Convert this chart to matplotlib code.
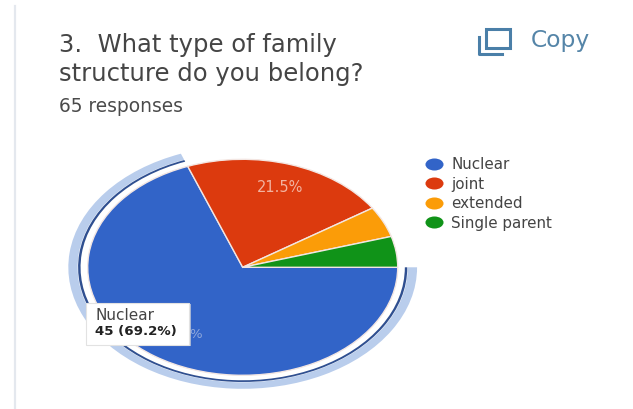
import numpy as np
import matplotlib
matplotlib.use("Agg")
import matplotlib.pyplot as plt
from matplotlib.patches import Wedge, Rectangle
from matplotlib.lines import Line2D
from matplotlib.path import Path
from matplotlib.transforms import Affine2D

categories = ["Nuclear", "joint", "extended", "Single parent"]
values = [45, 14, 3, 3]
colors = ["#3264c8", "#dc3a0e", "#fb9c08", "#109318"]
title_lines = ["3.  What type of family", "structure do you belong?"]
subtitle = "65 responses"
joint_label = "21.5%"
tip_title = "Nuclear"
tip_value = "45 (69.2%)"

W, H = 633, 409
CX, CY, RX, RY = 242.7, 267.3, 155, 108
plt.rcParams["font.family"] = ["DejaVu Sans"]

fig = plt.figure(figsize=(W / 100, H / 100), dpi=100, facecolor="white")
ax = fig.add_axes([0, 0, 1, 1])
ax.pie(values, colors=colors, startangle=0, counterclock=False, radius=1,
       center=(0, 0), wedgeprops=dict(edgecolor="#f3e6e2", linewidth=1.0))
ax.set_aspect("auto")
ax.set_xlim(-CX / RX, (W - CX) / RX)
ax.set_ylim((CY - H) / RY, CY / RY)
ax.axis("off")

span = values[0] / sum(values) * 360
ax.add_patch(Wedge((0, 0), 1.125, -span, 0, width=0.06, fc="#b9cdec", ec="none"))
ax.add_patch(Wedge((0, 0), 1.062, -span, 0, width=0.016, fc="#2f4f90", ec="none"))

def px(x, y):
    return x / W, 1 - y / H

fig.add_artist(Line2D([15 / W, 15 / W], [0, 1 - 6 / H], color="#e4e8ee", lw=1.6))

for line, y in zip(title_lines, [45, 74]):
    fig.text(*px(59, y), line, fontsize=17.5, color="#454545", va="center", ha="left")
fig.text(*px(59, 107), subtitle, fontsize=13.4, color="#4a4a4a", va="center", ha="left")

ic = "#4a7fa8"
fig.add_artist(Rectangle(px(486, 48), 24 / W, 19 / H, transform=fig.transFigure,
                         fc="none", ec=ic, lw=2.2))
fig.add_artist(Line2D([479 / W, 479 / W, 502 / W], [1 - 37 / H, 1 - 54 / H, 1 - 54 / H], color=ic, lw=2.2))
fig.text(*px(531, 41), "Copy", fontsize=16.8, color="#5585a8", va="center", ha="left")

fig.text(*px(280, 188), joint_label, fontsize=10.5, color="#f2b3a0", va="center", ha="center")
fig.text(*px(196, 335), "%", fontsize=9.5, color="#8fa8dc", va="center", ha="center")

fig.add_artist(Rectangle(px(88, 346), 103 / W, 42 / H, transform=fig.transFigure,
                         fc="#d4d6da", ec="none", alpha=0.7))
fig.add_artist(Rectangle(px(86, 345), 103 / W, 42 / H, transform=fig.transFigure,
                         fc="white", ec="#e2e2e2", lw=0.8))
fig.text(*px(95, 316), tip_title, fontsize=11, color="#444444", va="center", ha="left")
fig.text(*px(95, 332), tip_value, fontsize=9.6, color="#222222", fontweight="bold", va="center", ha="left")

oval = Path.unit_circle().transformed(Affine2D().scale(1.5, 1))
handles = [Line2D([], [], ls="", marker=oval, ms=13, mfc=c, mec="none") for c in colors]
ax.legend(handles, categories, loc="upper left",
          bbox_to_anchor=(424 / W, 1 - 157 / H), bbox_transform=fig.transFigure,
          frameon=False, fontsize=10.9, labelspacing=0.30, handletextpad=0.52,
          handlelength=1.27, borderpad=0, borderaxespad=0, labelcolor="#444444")

fig.savefig("out.png", dpi=100, facecolor="white")
